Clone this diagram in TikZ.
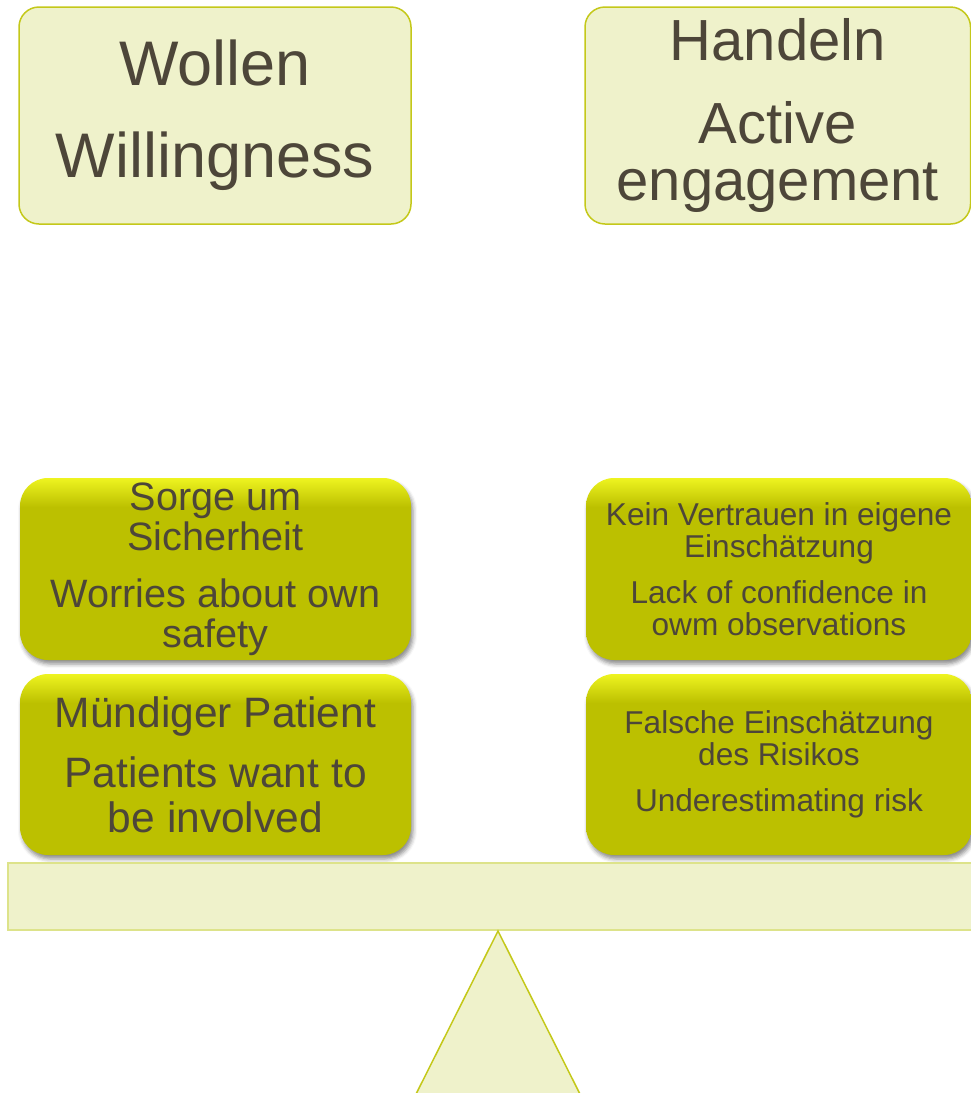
\documentclass[tikz,border=0pt]{standalone}
\usepackage{fontspec}
\setmainfont{Liberation Sans}
\usetikzlibrary{shadows.blur}
\definecolor{paleolive}{HTML}{EFF2CB}
\definecolor{oliveedge}{HTML}{C4C81A}
\definecolor{beamedge}{HTML}{DDE38A}
\definecolor{olivebody}{HTML}{BCC000}
\definecolor{limetop}{HTML}{EEF420}
\definecolor{bark}{HTML}{4D4639}
\pgfdeclareverticalshading{weightshade}{100bp}{color(0bp)=(olivebody); color(25bp)=(olivebody); color(67bp)=(olivebody); color(75bp)=(limetop); color(100bp)=(limetop)}

\begin{document}
\begin{tikzpicture}[x=1pt,y=-1pt,
  headbox/.style={draw=oliveedge,line width=1.5pt,fill=paleolive,rounded corners=20pt,align=center,text=bark,inner sep=0pt},
  weightbox/.style={shading=weightshade,rounded corners=28pt,align=center,text=bark,inner sep=0pt,
    blur shadow={shadow xshift=2pt,shadow yshift=-4pt,shadow blur radius=4pt,shadow opacity=45}}]
\useasboundingbox (0,0) rectangle (971,1093);
% the two goals on top
\node[headbox,minimum width=392pt,minimum height=217pt,font=\fontsize{63}{62}\selectfont] (wollen) at (215,115.5) {Wollen\\[30pt]Willingness};
\node[headbox,minimum width=385.5pt,minimum height=217pt,font=\fontsize{58}{57}\selectfont] (handeln) at (777.75,115.5) {Handeln\\[26pt]Active\\engagement};
% weights on the beam
\node[weightbox,minimum width=391pt,minimum height=182pt,font=\fontsize{39.6}{40}\selectfont] (sorge) at (215.5,569) {Sorge um\\Sicherheit\\[16.7pt]Worries about own\\safety};
\node[weightbox,minimum width=391pt,minimum height=181pt,font=\fontsize{42.5}{45}\selectfont] (muendig) at (215.5,764.5) {Mündiger Patient\\[15pt]Patients want to\\be involved};
\node[weightbox,minimum width=386pt,minimum height=182pt,font=\fontsize{31.6}{32}\selectfont] (vertrauen) at (779,569) {Kein Vertrauen in eigene\\Einschätzung\\[14.5pt]Lack of confidence in\\owm observations};
\node[weightbox,minimum width=386pt,minimum height=181pt,font=\fontsize{31.6}{32}\selectfont] (falsch) at (779,764.5) {Falsche Einschätzung\\des Risikos\\[14.5pt]Underestimating risk};
% beam and pivot
\node[draw=beamedge,line width=1.5pt,fill=paleolive,minimum width=982pt,minimum height=67pt,inner sep=0pt] (beam) at (499,896.5) {};
\coordinate (pivot) at (498,931);
\draw[oliveedge,line width=1.5pt,fill=paleolive,line join=miter] (pivot)--(408,1110)--(588,1110)--cycle;
\end{tikzpicture}
\end{document}
